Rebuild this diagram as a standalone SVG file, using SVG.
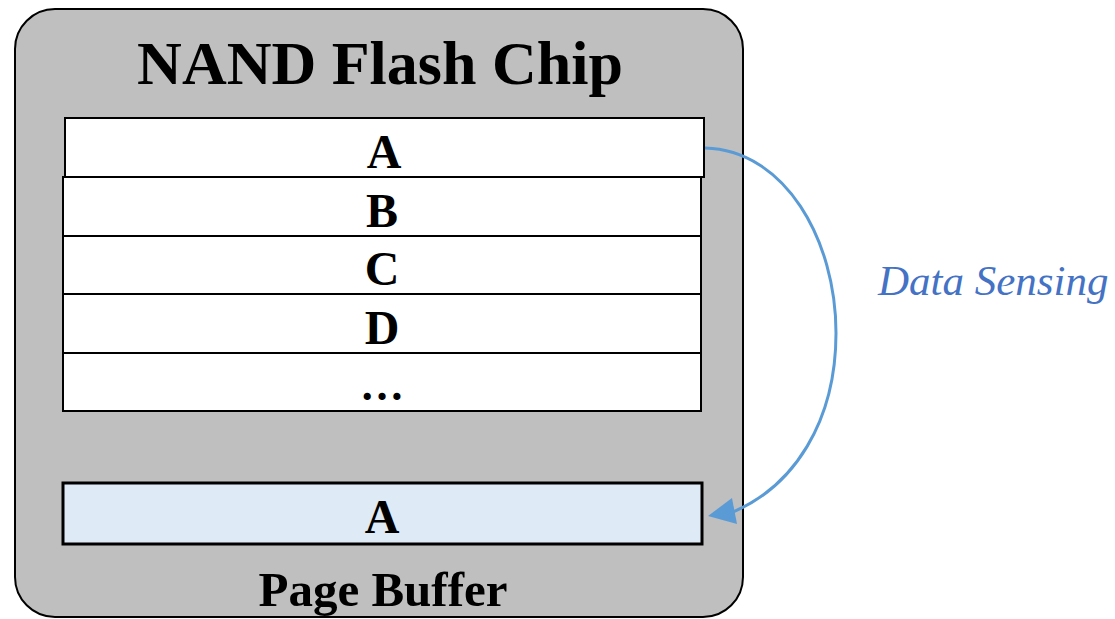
<svg xmlns="http://www.w3.org/2000/svg" width="1115" height="619" viewBox="0 0 1115 619">
  <style>
    .chip { fill: #BFBFBF; stroke: #000; stroke-width: 2; }
    .row { fill: #FFFFFF; stroke: #000; stroke-width: 2; }
    .buf { fill: #DEEAF6; stroke: #000; stroke-width: 3; }
    .bold { font-family: "Liberation Serif", "Times New Roman", serif; font-weight: bold; fill: #000; text-anchor: middle; }
    .label { font-family: "Liberation Serif", "Times New Roman", serif; font-style: italic; fill: #4472C4; }
    .flow { fill: none; stroke: #5B9BD5; stroke-width: 3; }
  </style>

  <rect width="1115" height="619" fill="#FFFFFF"/>

  <!-- chip body -->
  <g id="chip">
    <rect class="chip" x="15" y="9" width="728" height="608" rx="40" ry="40"/>
    <text class="bold" x="380" y="84" font-size="62">NAND Flash Chip</text>
  </g>

  <!-- page array -->
  <g id="page-a">
    <rect class="row" x="65" y="118" width="639" height="59"/>
    <text class="bold" x="384" y="168" font-size="48">A</text>
  </g>
  <g id="page-b">
    <rect class="row" x="63" y="177" width="638" height="59"/>
    <text class="bold" x="382" y="227" font-size="48">B</text>
  </g>
  <g id="page-c">
    <rect class="row" x="63" y="236" width="638" height="58"/>
    <text class="bold" x="382" y="285" font-size="48">C</text>
  </g>
  <g id="page-d">
    <rect class="row" x="63" y="294" width="638" height="59"/>
    <text class="bold" x="382" y="344" font-size="48">D</text>
  </g>
  <g id="page-more">
    <rect class="row" x="63" y="353" width="638" height="58"/>
    <text class="bold" x="382" y="400" font-size="44">…</text>
  </g>

  <!-- page buffer -->
  <g id="page-buffer">
    <rect class="buf" x="63" y="483" width="639" height="61"/>
    <text class="bold" x="382" y="533" font-size="48">A</text>
    <text class="bold" x="383" y="606" font-size="49">Page Buffer</text>
  </g>

  <!-- sensing connector -->
  <g id="connectors">
    <path class="flow" d="M705,148 C785,150 836,240 836,333 C836,420 795,488 728,514"/>
    <path d="M708,516 L732,498 L737,524 Z" fill="#5B9BD5"/>
  </g>
  <g id="sensing-label">
    <text class="label" x="878" y="295" font-size="43">Data Sensing</text>
  </g>
</svg>
